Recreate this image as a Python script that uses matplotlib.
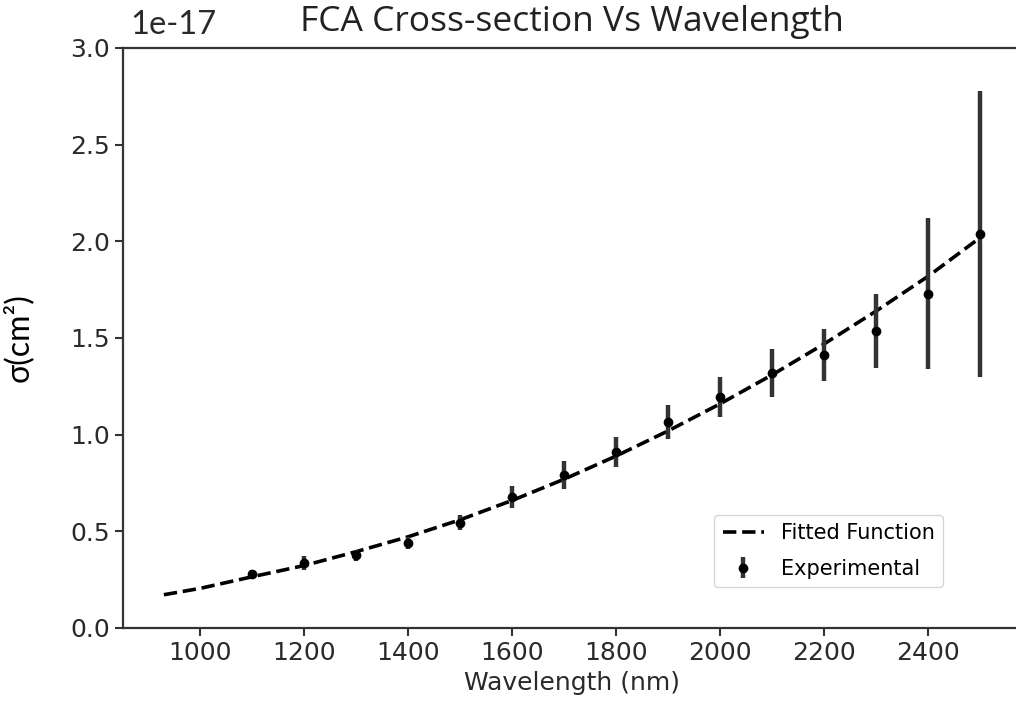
import matplotlib
matplotlib.use("Agg")
import matplotlib.pyplot as plt
import matplotlib.transforms as mtransforms

plt.rcParams['axes.unicode_minus'] = False

# experimental FCA cross-section (units of 1e-17 cm^2)
wavelength = [1100, 1200, 1300, 1400, 1500, 1600, 1700, 1800,
              1900, 2000, 2100, 2200, 2300, 2400, 2500]
sigma = [0.28, 0.335, 0.375, 0.44, 0.545, 0.677, 0.79, 0.91,
         1.065, 1.195, 1.32, 1.41, 1.535, 1.73, 2.04]
sigma_err = [0.02, 0.035, 0.03, 0.03, 0.04, 0.057, 0.072, 0.078,
             0.09, 0.105, 0.125, 0.135, 0.19, 0.39, 0.74]

# fitted curve
fit_wavelength = [930, 1000, 1100, 1200, 1300, 1400, 1500, 1600, 1700,
                  1800, 1900, 2000, 2100, 2200, 2300, 2400, 2500]
fit_sigma = [0.172, 0.205, 0.265, 0.323, 0.395, 0.472, 0.56, 0.66, 0.77,
             0.89, 1.02, 1.16, 1.31, 1.47, 1.64, 1.82, 2.02]

scale = 1e-17

fig = plt.figure(figsize=(10.16, 7.15), dpi=100)
ax = fig.add_axes([0.1211, 0.1217, 0.884, 0.8112])

ax.plot(fit_wavelength, [v * scale for v in fit_sigma], '--', color='black',
        lw=2.6, label='Fitted Function')
ax.errorbar(wavelength, [v * scale for v in sigma],
            yerr=[e * scale for e in sigma_err], fmt='o', color='black',
            ecolor='#333333', elinewidth=3.2, ms=6, label='Experimental')

ax.set_ylim(0, 3e-17)
ax.set_yticks([i * 0.5e-17 for i in range(7)])

for s in ax.spines.values():
    s.set_linewidth(1.6)
    s.set_color('#333333')
ax.tick_params(labelsize=18, length=6, width=1.5, color='#333333',
               labelcolor='#2a2a2a')

ax.set_xlabel('Wavelength (nm)', fontsize=18, color='#2a2a2a')
ax.set_ylabel('σ(cm²)', fontsize=23, family='Lato', labelpad=26)
ax.set_title('FCA Cross-section Vs Wavelength', fontsize=25.5,
             family='Open Sans', pad=12, color='#222222')

off = ax.yaxis.get_offset_text()
off.set_fontfamily('Lato')
off.set_fontsize(23.5)
off.set_transform(off.get_transform() +
                  mtransforms.ScaledTranslation(0.07, 0.10, fig.dpi_scale_trans))

ax.legend(loc='lower right', bbox_to_anchor=(0.913, 0.07), borderaxespad=0,
          fontsize=15, labelspacing=0.75, frameon=True, fancybox=True,
          edgecolor='#cccccc')

fig.savefig('out.png', dpi=100)
